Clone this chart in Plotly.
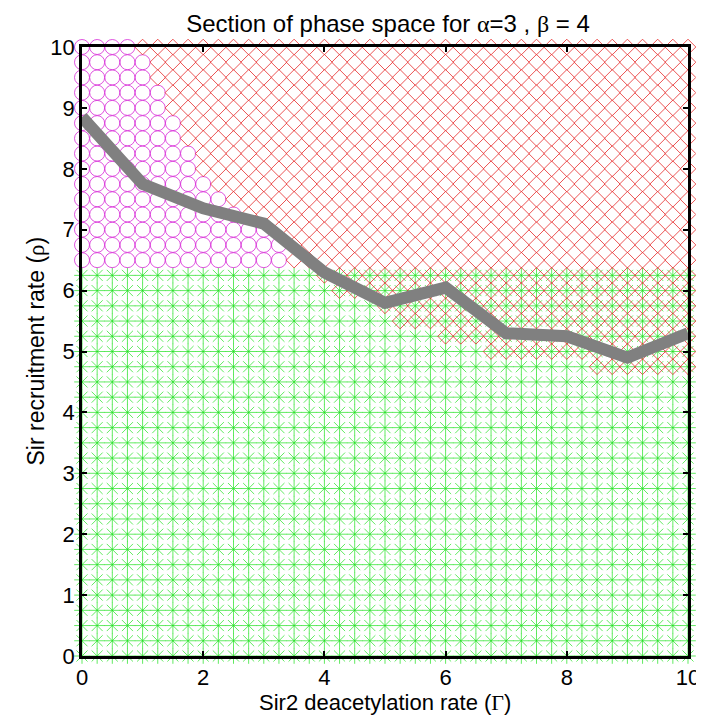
import numpy as np
import plotly.graph_objects as go

# ---------------- data ----------------
grid_step = 0.25          # spacing of the sampled parameter lattice
grid_max = 10.0
green_top_y = 6.25        # highest row of green asterisks (all columns)

# magenta circles: for each row, largest x that carries a circle
circle_row_y = [10.0, 9.75, 9.5, 9.25, 9.0, 8.75, 8.5, 8.25, 8.0, 7.75, 7.5, 7.25, 7.0, 6.75, 6.5]
circle_row_max_x = [0.75, 1.0, 1.0, 1.25, 1.25, 1.5, 1.5, 1.75, 1.75, 2.0, 2.25, 2.5, 3.0, 3.25, 3.25]

# red diamonds inside the green band: for each column, lowest row with a diamond
diamond_col_x = [4.0, 4.25, 4.5, 4.75, 5.0, 5.25, 5.5, 5.75, 6.0, 6.25, 6.5, 6.75, 7.0,
                 7.25, 7.5, 7.75, 8.0, 8.25, 8.5, 8.75, 9.0, 9.25, 9.5, 9.75, 10.0]
diamond_col_min_y = [6.25, 6.0, 6.0, 6.0, 5.75, 5.5, 5.5, 5.5, 5.25, 5.25, 5.25, 5.0, 5.0,
                     5.0, 5.0, 5.0, 5.0, 5.0, 4.75, 4.75, 4.75, 4.75, 4.75, 4.75, 4.75]

# gray boundary curve
boundary_x = [0, 1, 2, 3, 4, 5, 6, 7, 8, 9, 10]
boundary_y = [8.85, 7.75, 7.35, 7.1, 6.3, 5.8, 6.05, 5.3, 5.25, 4.9, 5.3]

x_ticks = [0, 2, 4, 6, 8, 10]
y_ticks = [0, 1, 2, 3, 4, 5, 6, 7, 8, 9, 10]

# ---------------- build marker sets ----------------
lattice = np.round(np.arange(0, grid_max + grid_step / 2, grid_step), 2)

gx, gy = [], []
for y in lattice:
    if y <= green_top_y + 1e-9:
        for x in lattice:
            gx.append(x); gy.append(y)

cx, cy, dx, dy = [], [], [], []
for y, mx in zip(circle_row_y, circle_row_max_x):
    for x in lattice:
        if x <= mx + 1e-9:
            cx.append(x); cy.append(y)
        else:
            dx.append(x); dy.append(y)
for x, my in zip(diamond_col_x, diamond_col_min_y):
    for y in lattice:
        if my - 1e-9 <= y <= green_top_y + 1e-9:
            dx.append(x); dy.append(y)

GREEN = "rgb(30,225,30)"
MAGENTA = "rgb(215,40,215)"
RED = "rgb(230,40,40)"

fig = go.Figure()
fig.add_trace(go.Scatter(x=gx, y=gy, mode="markers", cliponaxis=False, hoverinfo="skip",
                         marker=dict(symbol="asterisk-open", size=13, color=GREEN,
                                     line=dict(color=GREEN, width=0.7))))
fig.add_trace(go.Scatter(x=cx, y=cy, mode="markers", cliponaxis=False, hoverinfo="skip",
                         marker=dict(symbol="circle-open", size=15, color=MAGENTA,
                                     line=dict(color=MAGENTA, width=0.8))))
fig.add_trace(go.Scatter(x=dx, y=dy, mode="markers", cliponaxis=False, hoverinfo="skip",
                         marker=dict(symbol="diamond-open", size=12, color=RED,
                                     line=dict(color=RED, width=0.8))))
fig.add_trace(go.Scatter(x=boundary_x, y=boundary_y, mode="lines", cliponaxis=False,
                         line=dict(color="rgb(128,128,128)", width=12)))

font_main = "Liberation Sans, Arial, sans-serif"
gk = "<span style='font-family:Liberation Serif'>%s</span>"

axis_common = dict(range=[0, 10], showgrid=False, zeroline=False, showline=True,
                   linecolor="black", linewidth=2.5, mirror="ticks", ticks="inside",
                   ticklen=5, tickwidth=1.5, tickcolor="black",
                   tickfont=dict(family=font_main, size=22, color="black"))

fig.update_layout(
    width=704, height=720,
    margin=dict(l=74, r=17, t=39, b=72),
    paper_bgcolor="white", plot_bgcolor="white",
    showlegend=False,
    font=dict(family=font_main, color="black"),
    xaxis=dict(tickvals=x_ticks, **axis_common),
    yaxis=dict(tickvals=y_ticks, **axis_common),
    title=dict(text="Section of phase space for " + gk % "α" + "=3 , " + gk % "β" + " = 4",
               x=(74 + 306) / 704, xanchor="center", xref="container",
               y=1 - 16 / 720, yanchor="middle", yref="container",
               font=dict(family=font_main, size=24, color="black")),
    annotations=[
        dict(text="Sir2 deacetylation rate (" + gk % "Γ" + ")", xref="paper", yref="paper",
             x=0.5, y=0, xanchor="center", yanchor="middle", yshift=-46, showarrow=False,
             font=dict(family=font_main, size=22, color="black")),
        dict(text="Sir recruitment rate (" + gk % "ρ" + ")", xref="paper", yref="paper",
             x=0, y=0.5, xanchor="center", yanchor="middle", xshift=-47, textangle=-90,
             showarrow=False, font=dict(family=font_main, size=23, color="black")),
    ],
)

fig.write_html("out.html")
